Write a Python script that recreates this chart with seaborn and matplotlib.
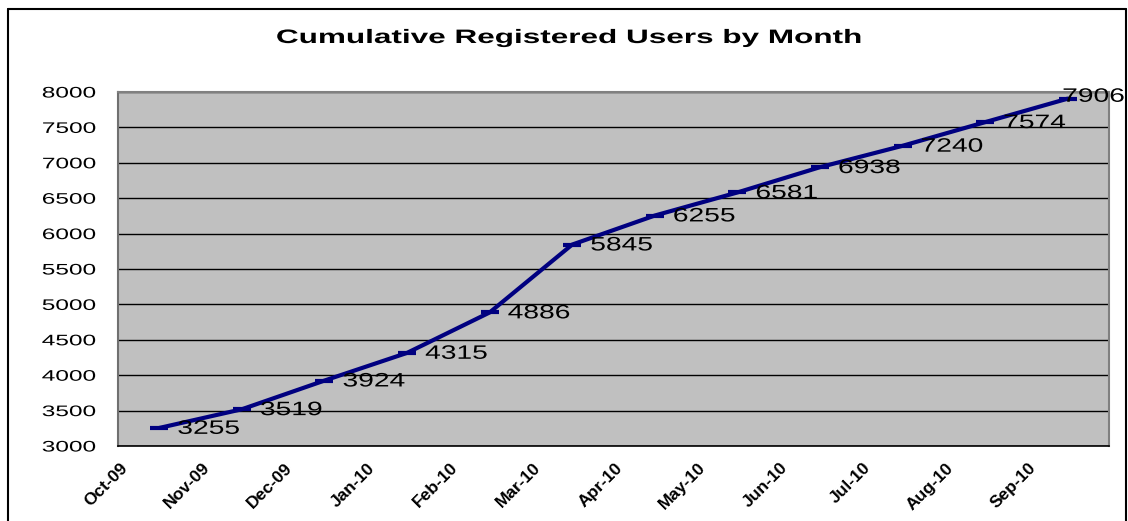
import seaborn as sns
import matplotlib.pyplot as plt
import matplotlib.lines as mlines
from matplotlib.patheffects import AbstractPathEffect
from matplotlib.transforms import Affine2D, ScaledTranslation
import numpy as np
import pandas as pd

months = ['Oct-09', 'Nov-09', 'Dec-09', 'Jan-10', 'Feb-10', 'Mar-10',
          'Apr-10', 'May-10', 'Jun-10', 'Jul-10', 'Aug-10', 'Sep-10']
users = [3255, 3519, 3924, 4315, 4886, 5845, 6255, 6581, 6938, 7240, 7574, 7906]
y_ticks = [3000, 3500, 4000, 4500, 5000, 5500, 6000, 6500, 7000, 7500, 8000]


class StretchX(AbstractPathEffect):
    """Widen text glyphs horizontally (the reference text is drawn wide)."""

    def __init__(self, factor, anchor='left'):
        super().__init__()
        self.factor = factor
        self.anchor = anchor

    def draw_path(self, renderer, gc, tpath, affine, rgbFace=None):
        xs = tpath.vertices[:, 0]
        ref = {'left': 0.0, 'center': (xs.min() + xs.max()) / 2, 'right': xs.max()}[self.anchor]
        pre = Affine2D().translate(-ref, 0).scale(self.factor, 1).translate(ref, 0)
        renderer.draw_path(gc, tpath, pre + affine, rgbFace)


sns.set_theme(style='white')
plt.rcParams['font.family'] = ['Liberation Sans', 'DejaVu Sans']
plt.rcParams['text.color'] = 'black'
plt.rcParams['xtick.color'] = 'black'
plt.rcParams['ytick.color'] = 'black'

# points sit in the middle of each month slot, ticks on the slot edges
df = pd.DataFrame({'pos': np.arange(len(months)) + 0.5, 'users': users})

fig = plt.figure(figsize=(11.28, 5.21), dpi=100)
ax = fig.add_axes([118 / 1128, 1 - 446 / 521, (1109 - 118) / 1128, (446 - 92) / 521])
ax.set_facecolor('#c0c0c0')

sns.lineplot(data=df, x='pos', y='users', ax=ax, color='#000080', linewidth=3,
             marker='_', markersize=13, markeredgewidth=3,
             markeredgecolor='#000080', zorder=3)

last = len(users) - 1
for i, (x, v) in enumerate(zip(df['pos'], df['users'])):
    # the last label is pulled left so it stays inside the chart area
    offset = (-4, 1) if i == last else (13, -1)
    ax.annotate(str(v), (x, v), xytext=offset, textcoords='offset points',
                ha='left', va='center', fontsize=14, color='black',
                annotation_clip=False, clip_on=False, zorder=4,
                path_effects=[StretchX(1.45, 'left')])

ax.set_xlim(0, len(months))
ax.set_ylim(3000, 8000)
ax.set_yticks(y_ticks)
ax.set_yticklabels([str(t) for t in y_ticks], fontsize=11)
ax.set_xticks(np.arange(len(months) + 1))
ax.set_xticklabels(months + [''], rotation=45, ha='right', va='center',
                   rotation_mode='anchor', fontsize=12.5, fontweight='bold')
ax.tick_params(axis='x', direction='out', length=6, width=1, color='black', pad=8)
ax.tick_params(axis='y', direction='out', length=6, width=1, color='black', pad=10)
for lbl in ax.get_yticklabels():
    lbl.set_path_effects([StretchX(1.6, 'right')])
shift = ScaledTranslation(5 / 72, 0, fig.dpi_scale_trans)
for lbl in ax.get_xticklabels():
    lbl.set_transform(lbl.get_transform() + shift)
ax.set_xlabel('')
ax.set_ylabel('')

ax.grid(axis='y', color='black', linewidth=1)
ax.grid(axis='x', visible=False)
ax.set_axisbelow(True)
for side in ['top', 'right']:
    ax.spines[side].set_color('#808080')
    ax.spines[side].set_linewidth(1.5)
ax.spines['left'].set_color('#707070')
ax.spines['left'].set_linewidth(1.5)
ax.spines['bottom'].set_color('black')
ax.spines['bottom'].set_linewidth(1.2)

fig.text(569 / 1128, 1 - 38.5 / 521, 'Cumulative Registered Users by Month',
         ha='center', va='center', fontsize=14, fontweight='bold',
         path_effects=[StretchX(1.62, 'center')])

# chart area frame (bottom edge falls outside the picture)
x0, x1 = 8 / 1128, 1126 / 1128
y1 = 1 - 9 / 521
for xs, ys in [([x0, x0], [0, y1]), ([x0, x1], [y1, y1]), ([x1, x1], [y1, 0])]:
    fig.add_artist(mlines.Line2D(xs, ys, transform=fig.transFigure,
                                 color='black', linewidth=1.5))

fig.savefig('out.png', dpi=100)
